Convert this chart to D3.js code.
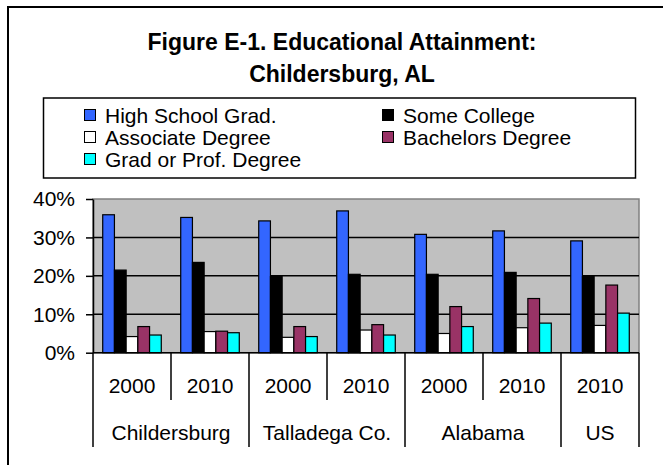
<!DOCTYPE html>
<html lang="en">
  <head>
    <meta charset="utf-8">
    <title>Figure E-1. Educational Attainment</title>
    <script src="https://unpkg.com/d3@7/dist/d3.min.js"></script>
    <style type="text/css">
body,html{
    margin: 0;
    padding: 0;
    background: #fff;
  }
svg text{
    font-family: "Liberation Sans", Arial, sans-serif;
  }
    </style>
  </head>
  <body>
    <script type="text/javascript">
      // chart data
      const groups = ["Childersburg", "Talladega Co.", "Alabama", "US"];
      const years = ["2000", "2010", "2000", "2010", "2000", "2010", "2010"];
      const groupOf = [0, 0, 1, 1, 2, 2, 3];
      const seriesNames = ["High School Grad.", "Some College", "Associate Degree", "Bachelors Degree", "Grad or Prof. Degree"];
      const colors = ["#3366FF", "#000000", "#FFFFFF", "#993366", "#00FFFF"];

      const hsGrad     = [0.359, 0.352, 0.343, 0.369, 0.308, 0.317, 0.291];
      const someColl   = [0.215, 0.235, 0.198, 0.204, 0.204, 0.209, 0.198];
      const associate  = [0.042, 0.055, 0.040, 0.059, 0.050, 0.065, 0.071];
      const bachelors  = [0.068, 0.056, 0.068, 0.073, 0.120, 0.141, 0.176];
      const gradProf   = [0.046, 0.052, 0.042, 0.046, 0.068, 0.077, 0.103];
      const series = [hsGrad, someColl, associate, bachelors, gradProf];
      const yTicks = [0, 0.1, 0.2, 0.3, 0.4];

      let w = 663;
      let h = 465;

      let plot = {left: 93, right: 639, top: 199, bottom: 352.7};

      const svg = d3.select("body")
        .append("svg")
        .attr("width", w)
        .attr("height", h);

      // outer frame (runs off the right and bottom edge)
      svg.append("rect")
        .attr("x", 8).attr("y", 7)
        .attr("width", 680).attr("height", 480)
        .attr("fill", "#fff")
        .attr("stroke", "#000")
        .attr("stroke-width", 2);

      // title
      const title = svg.append("text")
        .attr("text-anchor", "middle")
        .attr("font-size", 23)
        .attr("font-weight", "bold");
      title.append("tspan").attr("x", 342).attr("y", 50).text("Figure E-1. Educational Attainment:");
      title.append("tspan").attr("x", 342).attr("y", 82).text("Childersburg, AL");

      // legend
      svg.append("rect")
        .attr("x", 43.5).attr("y", 98)
        .attr("width", 592).attr("height", 80)
        .attr("fill", "#fff")
        .attr("stroke", "#000")
        .attr("stroke-width", 1.5);

      const legendPos = [[84, 115], [382, 115], [84, 137], [382, 137], [84, 159]];
      const leg = svg.selectAll(".leg")
        .data(seriesNames)
        .enter()
        .append("g")
        .attr("class", "leg")
        .attr("transform", (d, i) => "translate(" + legendPos[i][0] + "," + legendPos[i][1] + ")");
      leg.append("rect")
        .attr("x", 0.5).attr("y", -5.5)
        .attr("width", 11).attr("height", 11)
        .attr("fill", (d, i) => colors[i])
        .attr("stroke", "#000")
        .attr("stroke-width", 1);
      leg.append("text")
        .attr("x", 21).attr("y", 7.5)
        .attr("font-size", 21)
        .text(d => d);

      // scales
      const x = d3.scaleBand()
        .domain(d3.range(years.length))
        .range([plot.left, plot.right]);

      const xInner = d3.scaleBand()
        .domain(d3.range(series.length))
        .range([0, x.bandwidth()])
        .paddingOuter(0.83);

      const y = d3.scaleLinear()
        .domain([0, 0.4])
        .range([plot.bottom, plot.top]);

      // plot area
      svg.append("rect")
        .attr("x", plot.left).attr("y", plot.top)
        .attr("width", plot.right - plot.left)
        .attr("height", plot.bottom - plot.top)
        .attr("fill", "#C0C0C0")
        .attr("stroke", "#808080")
        .attr("stroke-width", 1.5);

      svg.selectAll(".grid")
        .data(yTicks.slice(1, -1))
        .enter()
        .append("line")
        .attr("x1", plot.left).attr("x2", plot.right)
        .attr("y1", d => y(d)).attr("y2", d => y(d))
        .attr("stroke", "#000")
        .attr("stroke-width", 1.5);

      // bars
      series.forEach(function(vals, s) {
        svg.selectAll(".bar" + s)
          .data(vals)
          .enter()
          .append("rect")
          .attr("x", (d, i) => x(i) + xInner(s))
          .attr("y", d => y(d))
          .attr("width", xInner.bandwidth())
          .attr("height", d => y(0) - y(d))
          .attr("fill", colors[s])
          .attr("stroke", "#000")
          .attr("stroke-width", 1.2);
      });

      // y axis
      const yAxis = svg.append("g")
        .attr("transform", "translate(" + plot.left + ",0)")
        .call(d3.axisLeft(y)
          .tickValues(yTicks)
          .tickSize(7)
          .tickSizeOuter(0)
          .tickPadding(11)
          .tickFormat(d3.format(".0%")));
      yAxis.attr("font-family", null);
      yAxis.select(".domain").attr("stroke", "#000").attr("stroke-width", 1.5);
      yAxis.selectAll(".tick line").attr("stroke-width", 1.5);
      yAxis.selectAll("text")
        .attr("font-size", 21)
        .attr("fill", "#000");

      // x axis: baseline, dividers, two label rows
      svg.append("line")
        .attr("x1", plot.left).attr("x2", plot.right)
        .attr("y1", plot.bottom).attr("y2", plot.bottom)
        .attr("stroke", "#000").attr("stroke-width", 1.5);

      const bounds = d3.range(years.length + 1);
      svg.selectAll(".div")
        .data(bounds)
        .enter()
        .append("line")
        .attr("x1", i => i < years.length ? x(i) : plot.right)
        .attr("x2", i => i < years.length ? x(i) : plot.right)
        .attr("y1", plot.bottom)
        .attr("y2", i => (i == 0 || i == years.length || groupOf[i] != groupOf[i - 1]) ? 447 : 400)
        .attr("stroke", "#000")
        .attr("stroke-width", 1.5);

      svg.selectAll(".year")
        .data(years)
        .enter()
        .append("text")
        .attr("x", (d, i) => x(i) + x.bandwidth() / 2)
        .attr("y", 393)
        .attr("text-anchor", "middle")
        .attr("font-size", 21)
        .text(d => d);

      svg.selectAll(".grp")
        .data(groups)
        .enter()
        .append("text")
        .attr("x", function(d, g) {
          let idx = groupOf.map((v, i) => v == g ? i : -1).filter(i => i >= 0);
          return (x(d3.min(idx)) + x(d3.max(idx)) + x.bandwidth()) / 2;
        })
        .attr("y", 440)
        .attr("text-anchor", "middle")
        .attr("font-size", 21)
        .text(d => d);
    </script>
  </body>
</html>
